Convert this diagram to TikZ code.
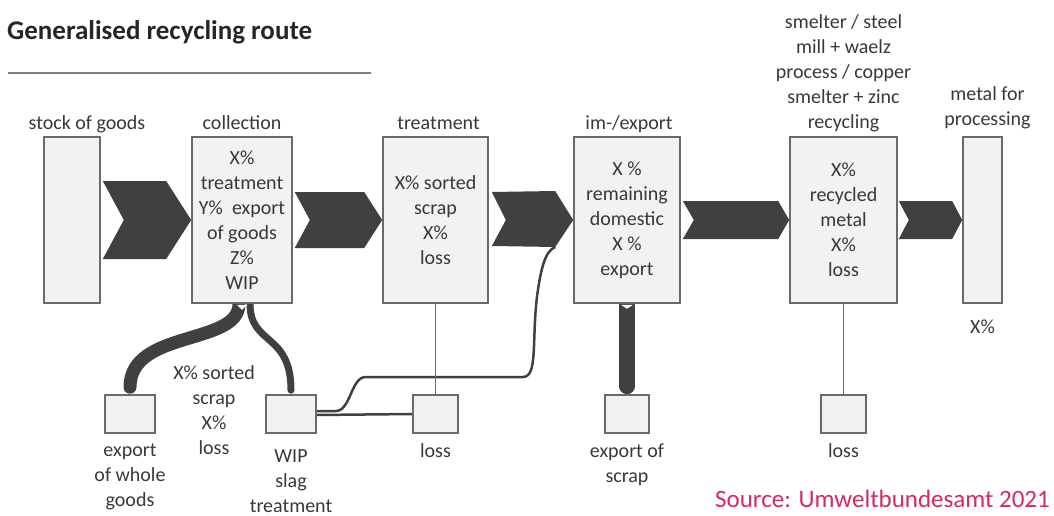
\documentclass[tikz,border=0pt]{standalone}
\usepackage{fontspec}
\setmainfont{Carlito}
\usepackage{xcolor}
\usetikzlibrary{positioning, calc, backgrounds}

\definecolor{boxfill}{HTML}{F2F2F2}
\definecolor{boxline}{HTML}{6A6A6A}
\definecolor{flowdark}{HTML}{404040}
\definecolor{txtgray}{HTML}{383838}
\definecolor{srcred}{HTML}{D42A5C}

\begin{document}
\begin{tikzpicture}[x=1pt, y=-1pt,
    box/.style={draw=boxline, fill=boxfill, line width=1.6pt, rectangle, inner sep=0pt, align=center, text=txtgray, font=\fontsize{20}{25}\selectfont},
    lbl/.style={inner sep=0pt, align=center, text=txtgray, font=\fontsize{20}{25}\selectfont},
    flow/.style={fill=flowdark},
    band/.style={draw=flowdark, line cap=round},
    flowline/.style={draw=flowdark, line width=2.5pt},
    lossline/.style={draw=boxline, line width=1.4pt}]
      \useasboundingbox (0,0) rectangle (1054,516);

      % title
      \node[anchor=west, inner sep=0pt, font=\fontsize{27}{30}\selectfont\bfseries, text=black!85] (title) at (7,32) {Generalised recycling route};
      \draw[draw=gray, line width=1.8pt] (8,73) -- (371,73);

      % main chain
      \node[box, minimum width=56, minimum height=166] (stock) at (72,220) {};
      \node[box, minimum width=100, minimum height=166] (coll) at (242,220) {X\%\\treatment\\Y\%\ \ export\\of goods\\Z\%\\WIP};
      \node[box, minimum width=105, minimum height=166] (treat) at (435.5,220) {X\% sorted\\scrap\\X\%\\loss};
      \node[box, minimum width=106, minimum height=166] (imex) at (627,220) {X \%\\remaining\\domestic\\X \%\\export};
      \node[box, minimum width=107, minimum height=166] (smelt) at (843.5,220) {X\%\\recycled\\metal\\X\%\\loss};
      \node[box, minimum width=39, minimum height=166] (metal) at (982.5,220) {};

      \node[lbl, above=2pt of stock.north, xshift=15pt, text height=14pt, text depth=5pt] (stocklbl) {stock of goods};
      \node[lbl, above=2pt of coll.north, text height=14pt, text depth=5pt] (colllbl) {collection};
      \node[lbl, above=2pt of treat.north, xshift=3pt, text height=14pt, text depth=5pt] (treatlbl) {treatment};
      \node[lbl, above=2pt of imex.north, xshift=2pt, text height=14pt, text depth=5pt] (imexlbl) {im-/export};
      \node[lbl, above=4pt of smelt.north] (smeltlbl) {smelter / steel\\mill + waelz\\process / copper\\smelter + zinc\\recycling};
      \node[lbl, above=7pt of metal.north, xshift=5pt] (metallbl) {metal for\\processing};
      \node[lbl, below=16pt of metal.south] (metalpct) {X\%};

      % side outputs
      \node[box, minimum width=50, minimum height=38] (expw) at (130,414) {};
      \node[box, minimum width=50, minimum height=38] (wip) at (291,414) {};
      \node[box, minimum width=45, minimum height=38] (loss1) at (435.5,414) {};
      \node[box, minimum width=44, minimum height=38] (expsc) at (627,414) {};
      \node[box, minimum width=45, minimum height=38] (loss2) at (843.5,414) {};

      \node[lbl, below=10pt of expw.south] (expwlbl) {export\\of whole\\goods};
      \node[lbl, below=16pt of wip.south] (wiplbl) {WIP\\slag\\treatment};
      \node[lbl, below=10pt of loss1.south] (loss1lbl) {loss};
      \node[lbl, below=10pt of expsc.south] (expsclbl) {export of\\scrap};
      \node[lbl, below=10pt of loss2.south] (loss2lbl) {loss};
      \node[lbl] (sortnote) at (214,410) {X\% sorted\\scrap\\X\%\\loss};

      \coordinate (joinpt) at ($(imex.west)+(-18,27)$);

      \begin{scope}[on background layer]
        % chevrons
        \fill[flow] ($(stock.east)+(2,-39)$) -- ($(coll.west)+(-25,-39)$) -- (coll.west) -- ($(coll.west)+(-25,39)$) -- ($(stock.east)+(2,39)$) -- ($(stock.east)+(23,0)$) -- cycle;
        \fill[flow] ($(coll.east)+(2,-28)$) -- ($(treat.west)+(-18,-28)$) -- (treat.west) -- ($(treat.west)+(-18,28)$) -- ($(coll.east)+(2,28)$) -- ($(coll.east)+(17,0)$) -- cycle;
        \fill[flow] ($(treat.east)+(3,-28)$) -- ($(imex.west)+(-18,-29)$) -- (imex.west) -- ($(imex.west)+(-18,27)$) -- ($(treat.east)+(3,26)$) -- ($(treat.east)+(17,0)$) -- cycle;
        \fill[flow] ($(imex.east)+(2,-19)$) -- ($(smelt.west)+(-11,-19)$) -- (smelt.west) -- ($(smelt.west)+(-11,19)$) -- ($(imex.east)+(2,19)$) -- ($(imex.east)+(13,0)$) -- cycle;
        \fill[flow] ($(smelt.east)+(1,-19)$) -- ($(metal.west)+(-10,-19)$) -- (metal.west) -- ($(metal.west)+(-10,19)$) -- ($(smelt.east)+(1,19)$) -- ($(smelt.east)+(11,0)$) -- cycle;

        % bands down
        \draw[band, line width=13pt] ($(coll.south)+(-3,0)$) .. controls +(0,42) and +(0,-58) .. ($(expw.north)+(0,-7)$);
        \draw[band, line width=7pt] ($(coll.south)+(8,0)$) .. controls +(0,42) and +(0,-58) .. ($(wip.north)+(0,-4)$);
        \draw[band, line width=16pt] (imex.south) -- ($(expsc.north)+(0,-8)$);
        \fill[white] ($(coll.south)+(-5,1)$) -- ($(coll.south)+(5,1)$) -- ($(coll.south)+(0,6)$) -- cycle;
        \fill[white] ($(imex.south)+(-6,1)$) -- ($(imex.south)+(6,1)$) -- ($(imex.south)+(0,5)$) -- cycle;

        % slag route
        \draw[flowline] ($(wip.east)+(0,1)$) -- (loss1.west);
        \draw[flowline] ($(wip.east)+(0,-3)$) -- ++(19,0) .. controls +(15,0) and +(-15,0) .. ++(30,-34) -- ++(157,0) .. controls +(15,0) and +(-5,45) .. ++(14,-79) .. controls +(4,-30) and +(-10,4) .. (joinpt);

        \draw[lossline] (treat.south) -- (loss1.north);
        \draw[lossline] (smelt.south) -- (loss2.north);
      \end{scope}

      \node[anchor=south east, inner sep=0pt, text=srcred, font=\fontsize{25}{28}\selectfont] (source) at (1050,508) {Source: Umweltbundesamt 2021};
    \end{tikzpicture}
\end{document}
